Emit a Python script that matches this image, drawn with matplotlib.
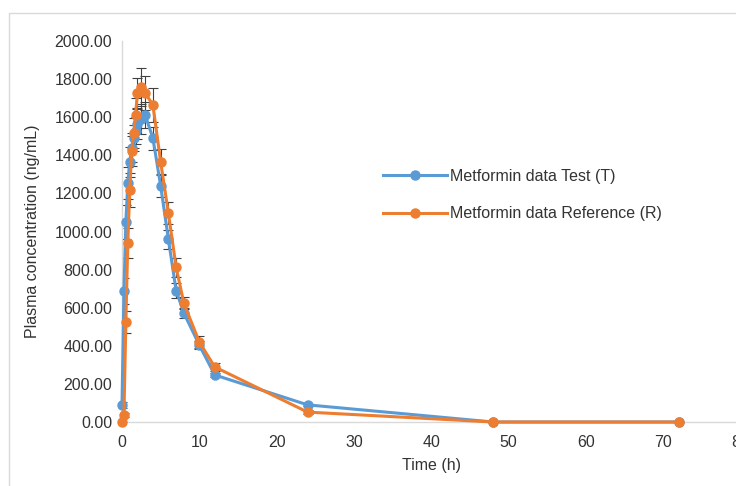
import matplotlib
matplotlib.use('Agg')
import matplotlib.pyplot as plt
from matplotlib.patches import Rectangle

plt.rcParams['font.family'] = ['Liberation Sans', 'DejaVu Sans']

# sampling times (h)
time_h = [0, 0.25, 0.5, 0.75, 1, 1.25, 1.5, 1.75, 2, 2.5, 3, 4, 5, 6, 7, 8, 10, 12, 24, 48, 72]

# mean plasma concentrations (ng/mL) and their SD
test_mean = [90, 688, 1050, 1255, 1365, 1440, 1490, 1530, 1565, 1590, 1611, 1490, 1240,
             960, 690, 572, 404, 247, 90, 0, 0]
test_sd = [15, 70, 90, 85, 80, 75, 70, 70, 80, 80, 70, 60, 60, 50, 40, 25, 20, 10, 5, 0, 0]

ref_mean = [0, 37, 525, 940, 1218, 1422, 1517, 1611, 1727, 1758, 1727, 1664, 1365,
            1097, 813, 624, 420, 289, 52, 0, 0]
ref_sd = [0, 10, 60, 80, 90, 80, 80, 90, 80, 100, 90, 90, 70, 60, 50, 30, 30, 20, 10, 0, 0]

y_ticks = [0, 200, 400, 600, 800, 1000, 1200, 1400, 1600, 1800, 2000]
x_ticks = [0, 10, 20, 30, 40, 50, 60, 70, 80]

blue = '#5B9BD5'
orange = '#ED7D31'
text_col = '#333333'

fig = plt.figure(figsize=(7.36, 4.86), dpi=100)

# light frame round the chart area
fig.patches.append(Rectangle((9 / 736, -0.1), 1.2, 1.1 - 13 / 486,
                             transform=fig.transFigure, fill=False,
                             edgecolor='#D9D9D9', linewidth=1.0))

ax = fig.add_axes([122 / 736, 64 / 486, 618.4 / 736, 381 / 486])

for mean, sd, col, lab in [(test_mean, test_sd, blue, 'Metformin data Test (T)'),
                           (ref_mean, ref_sd, orange, 'Metformin data Reference (R)')]:
    ax.errorbar(time_h, mean, yerr=sd, fmt='none', ecolor='#404040',
                elinewidth=0.8, capsize=3.5, capthick=0.8, zorder=2)
    ax.plot(time_h, mean, color=col, linewidth=2.2, marker='o', markersize=6.5,
            label=lab, zorder=3, clip_on=False)

ax.set_xlim(0, 80)
ax.set_ylim(0, 2000)
ax.set_xticks(x_ticks)
ax.set_yticks(y_ticks)
ax.set_yticklabels([f'{v:.2f}' for v in y_ticks])
ax.tick_params(axis='both', length=0, labelsize=11.5, colors=text_col)
ax.tick_params(axis='x', pad=9)
ax.tick_params(axis='y', pad=7)

for s in ['top', 'right']:
    ax.spines[s].set_visible(False)
for s in ['left', 'bottom']:
    ax.spines[s].set_color('#D9D9D9')
    ax.spines[s].set_linewidth(1.0)

ax.set_xlabel('Time (h)', fontsize=11.5, color=text_col, labelpad=6)
ax.set_ylabel('Plasma concentration (ng/mL)', fontsize=11.5, color=text_col)
ax.yaxis.set_label_coords(-0.133, 0.5)

ax.legend(loc='upper left', bbox_to_anchor=(383 / 736, 1 - 169 / 486),
          bbox_transform=fig.transFigure, frameon=False, fontsize=11.5,
          handlelength=4.0, handletextpad=0.2, labelspacing=1.4,
          borderpad=0, borderaxespad=0, labelcolor=text_col)

fig.savefig('out.png', dpi=100)
